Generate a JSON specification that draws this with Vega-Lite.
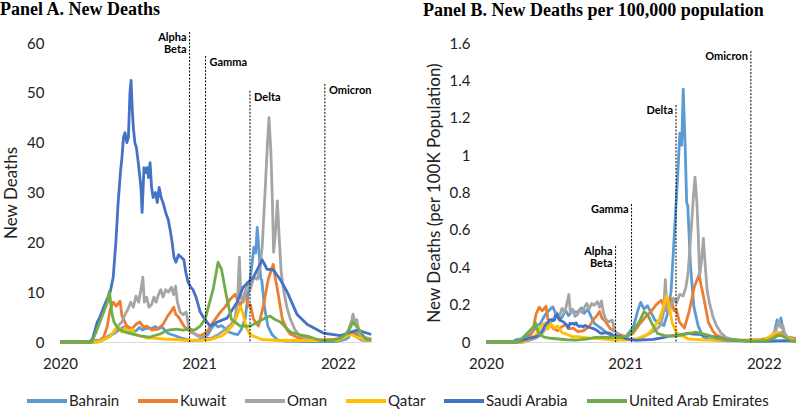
{
  "$schema": "https://vega.github.io/schema/vega-lite/v6.json",
  "background": "white",
  "padding": {"left": 0, "top": 0, "right": 0, "bottom": 0},
  "datasets": {
    "series": [
      {"d":"2020-01-01","c":"Bahrain","a":0,"b":0},
      {"d":"2020-03-10","c":"Bahrain","a":0,"b":0},
      {"d":"2020-03-20","c":"Bahrain","a":0.2,"b":0.012},
      {"d":"2020-04-10","c":"Bahrain","a":0.3,"b":0.018},
      {"d":"2020-04-30","c":"Bahrain","a":0.8,"b":0.047},
      {"d":"2020-05-15","c":"Bahrain","a":1.5,"b":0.088},
      {"d":"2020-05-23","c":"Bahrain","a":1.7,"b":0.1},
      {"d":"2020-06-05","c":"Bahrain","a":2.5,"b":0.147},
      {"d":"2020-06-18","c":"Bahrain","a":3,"b":0.176},
      {"d":"2020-06-25","c":"Bahrain","a":3.2,"b":0.188},
      {"d":"2020-07-03","c":"Bahrain","a":2.5,"b":0.147},
      {"d":"2020-07-12","c":"Bahrain","a":2,"b":0.118},
      {"d":"2020-07-20","c":"Bahrain","a":2.3,"b":0.135},
      {"d":"2020-07-28","c":"Bahrain","a":2.9,"b":0.171},
      {"d":"2020-08-05","c":"Bahrain","a":2.4,"b":0.141},
      {"d":"2020-08-15","c":"Bahrain","a":2.8,"b":0.165},
      {"d":"2020-08-29","c":"Bahrain","a":2.7,"b":0.159},
      {"d":"2020-09-08","c":"Bahrain","a":3.1,"b":0.182},
      {"d":"2020-09-15","c":"Bahrain","a":2.6,"b":0.153},
      {"d":"2020-09-25","c":"Bahrain","a":3,"b":0.176},
      {"d":"2020-10-05","c":"Bahrain","a":2.2,"b":0.129},
      {"d":"2020-10-12","c":"Bahrain","a":1.7,"b":0.1},
      {"d":"2020-10-20","c":"Bahrain","a":1.5,"b":0.088},
      {"d":"2020-11-01","c":"Bahrain","a":1.2,"b":0.071},
      {"d":"2020-11-15","c":"Bahrain","a":0.8,"b":0.047},
      {"d":"2020-12-01","c":"Bahrain","a":0.5,"b":0.029},
      {"d":"2020-12-15","c":"Bahrain","a":0.3,"b":0.018},
      {"d":"2021-01-01","c":"Bahrain","a":0.4,"b":0.024},
      {"d":"2021-01-15","c":"Bahrain","a":1,"b":0.059},
      {"d":"2021-01-24","c":"Bahrain","a":1.5,"b":0.088},
      {"d":"2021-02-03","c":"Bahrain","a":2.8,"b":0.165},
      {"d":"2021-02-11","c":"Bahrain","a":3.6,"b":0.212},
      {"d":"2021-02-20","c":"Bahrain","a":3,"b":0.176},
      {"d":"2021-03-01","c":"Bahrain","a":3.3,"b":0.194},
      {"d":"2021-03-10","c":"Bahrain","a":2.7,"b":0.159},
      {"d":"2021-03-20","c":"Bahrain","a":2,"b":0.118},
      {"d":"2021-04-01","c":"Bahrain","a":1.7,"b":0.1},
      {"d":"2021-04-13","c":"Bahrain","a":1.5,"b":0.088},
      {"d":"2021-04-22","c":"Bahrain","a":2.5,"b":0.147},
      {"d":"2021-05-02","c":"Bahrain","a":4.6,"b":0.271},
      {"d":"2021-05-10","c":"Bahrain","a":9.4,"b":0.553},
      {"d":"2021-05-20","c":"Bahrain","a":15.5,"b":0.912},
      {"d":"2021-05-25","c":"Bahrain","a":19,"b":1.118},
      {"d":"2021-05-30","c":"Bahrain","a":17.9,"b":1.053},
      {"d":"2021-06-03","c":"Bahrain","a":23,"b":1.353},
      {"d":"2021-06-08","c":"Bahrain","a":17.9,"b":1.053},
      {"d":"2021-06-12","c":"Bahrain","a":12.7,"b":0.747},
      {"d":"2021-06-15","c":"Bahrain","a":12.4,"b":0.729},
      {"d":"2021-06-22","c":"Bahrain","a":7,"b":0.412},
      {"d":"2021-07-01","c":"Bahrain","a":3.2,"b":0.188},
      {"d":"2021-07-12","c":"Bahrain","a":1.5,"b":0.088},
      {"d":"2021-07-25","c":"Bahrain","a":0.5,"b":0.029},
      {"d":"2021-08-15","c":"Bahrain","a":0.2,"b":0.012},
      {"d":"2021-10-01","c":"Bahrain","a":0.1,"b":0.006},
      {"d":"2021-12-31","c":"Bahrain","a":0.1,"b":0.006},
      {"d":"2022-01-20","c":"Bahrain","a":0.5,"b":0.029},
      {"d":"2022-01-29","c":"Bahrain","a":0.9,"b":0.053},
      {"d":"2022-02-05","c":"Bahrain","a":2,"b":0.118},
      {"d":"2022-02-10","c":"Bahrain","a":1.5,"b":0.088},
      {"d":"2022-02-15","c":"Bahrain","a":2.2,"b":0.129},
      {"d":"2022-02-22","c":"Bahrain","a":0.9,"b":0.053},
      {"d":"2022-03-05","c":"Bahrain","a":0.4,"b":0.024},
      {"d":"2022-03-30","c":"Bahrain","a":0.3,"b":0.018},

      {"d":"2020-01-01","c":"Kuwait","a":0,"b":0},
      {"d":"2020-04-10","c":"Kuwait","a":0,"b":0},
      {"d":"2020-04-25","c":"Kuwait","a":1,"b":0.023},
      {"d":"2020-05-04","c":"Kuwait","a":3,"b":0.07},
      {"d":"2020-05-12","c":"Kuwait","a":6.5,"b":0.151},
      {"d":"2020-05-20","c":"Kuwait","a":8,"b":0.186},
      {"d":"2020-05-28","c":"Kuwait","a":7.2,"b":0.167},
      {"d":"2020-06-07","c":"Kuwait","a":8.2,"b":0.191},
      {"d":"2020-06-12","c":"Kuwait","a":5.2,"b":0.121},
      {"d":"2020-06-25","c":"Kuwait","a":3.2,"b":0.074},
      {"d":"2020-07-08","c":"Kuwait","a":2.6,"b":0.06},
      {"d":"2020-07-18","c":"Kuwait","a":3.5,"b":0.081},
      {"d":"2020-07-29","c":"Kuwait","a":4,"b":0.093},
      {"d":"2020-08-08","c":"Kuwait","a":3,"b":0.07},
      {"d":"2020-08-17","c":"Kuwait","a":3.2,"b":0.074},
      {"d":"2020-08-30","c":"Kuwait","a":2.4,"b":0.056},
      {"d":"2020-09-13","c":"Kuwait","a":2.6,"b":0.06},
      {"d":"2020-09-28","c":"Kuwait","a":3.5,"b":0.081},
      {"d":"2020-10-10","c":"Kuwait","a":5.2,"b":0.121},
      {"d":"2020-10-20","c":"Kuwait","a":6.2,"b":0.144},
      {"d":"2020-10-26","c":"Kuwait","a":7,"b":0.163},
      {"d":"2020-11-01","c":"Kuwait","a":5.5,"b":0.128},
      {"d":"2020-11-08","c":"Kuwait","a":5,"b":0.116},
      {"d":"2020-11-22","c":"Kuwait","a":3.2,"b":0.074},
      {"d":"2020-12-10","c":"Kuwait","a":2,"b":0.047},
      {"d":"2020-12-25","c":"Kuwait","a":1.5,"b":0.035},
      {"d":"2021-01-04","c":"Kuwait","a":1.2,"b":0.028},
      {"d":"2021-01-22","c":"Kuwait","a":2,"b":0.047},
      {"d":"2021-02-07","c":"Kuwait","a":4,"b":0.093},
      {"d":"2021-02-26","c":"Kuwait","a":6,"b":0.14},
      {"d":"2021-03-10","c":"Kuwait","a":7,"b":0.163},
      {"d":"2021-03-24","c":"Kuwait","a":8.6,"b":0.2},
      {"d":"2021-04-06","c":"Kuwait","a":9.6,"b":0.223},
      {"d":"2021-04-19","c":"Kuwait","a":7.2,"b":0.167},
      {"d":"2021-05-02","c":"Kuwait","a":10,"b":0.233},
      {"d":"2021-05-10","c":"Kuwait","a":7.2,"b":0.167},
      {"d":"2021-05-16","c":"Kuwait","a":7.5,"b":0.174},
      {"d":"2021-05-24","c":"Kuwait","a":4.6,"b":0.107},
      {"d":"2021-06-06","c":"Kuwait","a":3.2,"b":0.074},
      {"d":"2021-06-19","c":"Kuwait","a":7.2,"b":0.167},
      {"d":"2021-07-02","c":"Kuwait","a":12.6,"b":0.293},
      {"d":"2021-07-15","c":"Kuwait","a":15.6,"b":0.363},
      {"d":"2021-07-20","c":"Kuwait","a":13,"b":0.302},
      {"d":"2021-07-26","c":"Kuwait","a":10.6,"b":0.247},
      {"d":"2021-08-08","c":"Kuwait","a":4.6,"b":0.107},
      {"d":"2021-08-20","c":"Kuwait","a":2.5,"b":0.058},
      {"d":"2021-08-29","c":"Kuwait","a":1.6,"b":0.037},
      {"d":"2021-09-20","c":"Kuwait","a":0.8,"b":0.019},
      {"d":"2021-11-01","c":"Kuwait","a":0.4,"b":0.009},
      {"d":"2021-12-20","c":"Kuwait","a":0.5,"b":0.012},
      {"d":"2022-01-20","c":"Kuwait","a":1,"b":0.023},
      {"d":"2022-02-05","c":"Kuwait","a":1.8,"b":0.042},
      {"d":"2022-02-15","c":"Kuwait","a":2.2,"b":0.051},
      {"d":"2022-03-01","c":"Kuwait","a":1.2,"b":0.028},
      {"d":"2022-03-30","c":"Kuwait","a":0.6,"b":0.014},

      {"d":"2020-01-01","c":"Oman","a":0,"b":0},
      {"d":"2020-04-01","c":"Oman","a":0,"b":0},
      {"d":"2020-04-20","c":"Oman","a":0.3,"b":0.006},
      {"d":"2020-05-10","c":"Oman","a":1,"b":0.02},
      {"d":"2020-05-25","c":"Oman","a":2,"b":0.039},
      {"d":"2020-06-05","c":"Oman","a":3.5,"b":0.069},
      {"d":"2020-06-12","c":"Oman","a":4,"b":0.078},
      {"d":"2020-06-20","c":"Oman","a":5.5,"b":0.108},
      {"d":"2020-06-28","c":"Oman","a":6.6,"b":0.129},
      {"d":"2020-07-05","c":"Oman","a":8,"b":0.157},
      {"d":"2020-07-12","c":"Oman","a":7,"b":0.137},
      {"d":"2020-07-19","c":"Oman","a":9.2,"b":0.18},
      {"d":"2020-07-26","c":"Oman","a":8,"b":0.157},
      {"d":"2020-08-02","c":"Oman","a":11,"b":0.216},
      {"d":"2020-08-06","c":"Oman","a":13,"b":0.255},
      {"d":"2020-08-10","c":"Oman","a":8,"b":0.157},
      {"d":"2020-08-16","c":"Oman","a":9,"b":0.176},
      {"d":"2020-08-22","c":"Oman","a":7,"b":0.137},
      {"d":"2020-08-29","c":"Oman","a":7.5,"b":0.147},
      {"d":"2020-09-04","c":"Oman","a":9,"b":0.176},
      {"d":"2020-09-10","c":"Oman","a":8,"b":0.157},
      {"d":"2020-09-16","c":"Oman","a":9.5,"b":0.186},
      {"d":"2020-09-22","c":"Oman","a":10.5,"b":0.206},
      {"d":"2020-09-28","c":"Oman","a":9,"b":0.176},
      {"d":"2020-10-05","c":"Oman","a":10.5,"b":0.206},
      {"d":"2020-10-12","c":"Oman","a":10,"b":0.196},
      {"d":"2020-10-20","c":"Oman","a":11,"b":0.216},
      {"d":"2020-10-26","c":"Oman","a":9.5,"b":0.186},
      {"d":"2020-10-31","c":"Oman","a":11.2,"b":0.22},
      {"d":"2020-11-05","c":"Oman","a":8,"b":0.157},
      {"d":"2020-11-12","c":"Oman","a":6,"b":0.118},
      {"d":"2020-11-20","c":"Oman","a":5.5,"b":0.108},
      {"d":"2020-11-28","c":"Oman","a":6,"b":0.118},
      {"d":"2020-12-05","c":"Oman","a":3,"b":0.059},
      {"d":"2020-12-14","c":"Oman","a":2,"b":0.039},
      {"d":"2020-12-28","c":"Oman","a":1.2,"b":0.024},
      {"d":"2021-01-15","c":"Oman","a":0.8,"b":0.016},
      {"d":"2021-02-01","c":"Oman","a":0.7,"b":0.014},
      {"d":"2021-02-20","c":"Oman","a":1.5,"b":0.029},
      {"d":"2021-03-10","c":"Oman","a":2.5,"b":0.049},
      {"d":"2021-03-25","c":"Oman","a":3.5,"b":0.069},
      {"d":"2021-04-05","c":"Oman","a":4.6,"b":0.09},
      {"d":"2021-04-12","c":"Oman","a":8,"b":0.157},
      {"d":"2021-04-17","c":"Oman","a":17,"b":0.333},
      {"d":"2021-04-21","c":"Oman","a":9,"b":0.176},
      {"d":"2021-04-27","c":"Oman","a":8,"b":0.157},
      {"d":"2021-05-08","c":"Oman","a":12,"b":0.235},
      {"d":"2021-05-16","c":"Oman","a":10.6,"b":0.208},
      {"d":"2021-05-25","c":"Oman","a":13,"b":0.255},
      {"d":"2021-06-03","c":"Oman","a":12.6,"b":0.247},
      {"d":"2021-06-10","c":"Oman","a":15,"b":0.294},
      {"d":"2021-06-16","c":"Oman","a":19,"b":0.373},
      {"d":"2021-06-24","c":"Oman","a":30.7,"b":0.602},
      {"d":"2021-06-30","c":"Oman","a":40,"b":0.784},
      {"d":"2021-07-04","c":"Oman","a":45,"b":0.882},
      {"d":"2021-07-09","c":"Oman","a":38,"b":0.745},
      {"d":"2021-07-13","c":"Oman","a":28,"b":0.549},
      {"d":"2021-07-16","c":"Oman","a":18,"b":0.353},
      {"d":"2021-07-21","c":"Oman","a":22,"b":0.431},
      {"d":"2021-07-26","c":"Oman","a":28.3,"b":0.555},
      {"d":"2021-07-31","c":"Oman","a":20.7,"b":0.406},
      {"d":"2021-08-05","c":"Oman","a":14,"b":0.275},
      {"d":"2021-08-11","c":"Oman","a":10.6,"b":0.208},
      {"d":"2021-08-20","c":"Oman","a":7,"b":0.137},
      {"d":"2021-08-29","c":"Oman","a":4.6,"b":0.09},
      {"d":"2021-09-10","c":"Oman","a":2.5,"b":0.049},
      {"d":"2021-09-24","c":"Oman","a":1.2,"b":0.024},
      {"d":"2021-10-15","c":"Oman","a":0.6,"b":0.012},
      {"d":"2021-12-01","c":"Oman","a":0.3,"b":0.006},
      {"d":"2021-12-31","c":"Oman","a":0.3,"b":0.006},
      {"d":"2022-01-20","c":"Oman","a":1.2,"b":0.024},
      {"d":"2022-01-30","c":"Oman","a":2.6,"b":0.051},
      {"d":"2022-02-07","c":"Oman","a":4.5,"b":0.088},
      {"d":"2022-02-10","c":"Oman","a":5.6,"b":0.11},
      {"d":"2022-02-15","c":"Oman","a":4,"b":0.078},
      {"d":"2022-02-20","c":"Oman","a":4.5,"b":0.088},
      {"d":"2022-02-27","c":"Oman","a":1.5,"b":0.029},
      {"d":"2022-03-15","c":"Oman","a":0.8,"b":0.016},
      {"d":"2022-03-30","c":"Oman","a":0.5,"b":0.01},

      {"d":"2020-01-01","c":"Qatar","a":0,"b":0},
      {"d":"2020-04-01","c":"Qatar","a":0,"b":0},
      {"d":"2020-04-20","c":"Qatar","a":0.3,"b":0.01},
      {"d":"2020-05-10","c":"Qatar","a":1,"b":0.034},
      {"d":"2020-05-25","c":"Qatar","a":2.5,"b":0.086},
      {"d":"2020-06-05","c":"Qatar","a":3,"b":0.103},
      {"d":"2020-06-12","c":"Qatar","a":2,"b":0.069},
      {"d":"2020-06-20","c":"Qatar","a":2.8,"b":0.097},
      {"d":"2020-06-28","c":"Qatar","a":2.2,"b":0.076},
      {"d":"2020-07-08","c":"Qatar","a":2.5,"b":0.086},
      {"d":"2020-07-18","c":"Qatar","a":1.5,"b":0.052},
      {"d":"2020-08-01","c":"Qatar","a":1.2,"b":0.041},
      {"d":"2020-08-15","c":"Qatar","a":0.8,"b":0.028},
      {"d":"2020-09-01","c":"Qatar","a":0.8,"b":0.028},
      {"d":"2020-10-01","c":"Qatar","a":0.6,"b":0.021},
      {"d":"2020-11-01","c":"Qatar","a":0.5,"b":0.017},
      {"d":"2020-12-01","c":"Qatar","a":0.3,"b":0.01},
      {"d":"2021-01-01","c":"Qatar","a":0.3,"b":0.01},
      {"d":"2021-02-01","c":"Qatar","a":0.5,"b":0.017},
      {"d":"2021-03-01","c":"Qatar","a":1.2,"b":0.041},
      {"d":"2021-03-15","c":"Qatar","a":2,"b":0.069},
      {"d":"2021-04-01","c":"Qatar","a":3.5,"b":0.121},
      {"d":"2021-04-12","c":"Qatar","a":5.5,"b":0.19},
      {"d":"2021-04-20","c":"Qatar","a":7.2,"b":0.248},
      {"d":"2021-04-27","c":"Qatar","a":5.5,"b":0.19},
      {"d":"2021-05-05","c":"Qatar","a":3,"b":0.103},
      {"d":"2021-05-15","c":"Qatar","a":1.5,"b":0.052},
      {"d":"2021-05-24","c":"Qatar","a":1.2,"b":0.041},
      {"d":"2021-06-15","c":"Qatar","a":0.5,"b":0.017},
      {"d":"2021-08-01","c":"Qatar","a":0.3,"b":0.01},
      {"d":"2021-12-31","c":"Qatar","a":0.3,"b":0.01},
      {"d":"2022-01-15","c":"Qatar","a":0.8,"b":0.028},
      {"d":"2022-01-25","c":"Qatar","a":1.2,"b":0.041},
      {"d":"2022-02-05","c":"Qatar","a":1.5,"b":0.052},
      {"d":"2022-02-20","c":"Qatar","a":1,"b":0.034},
      {"d":"2022-03-10","c":"Qatar","a":0.5,"b":0.017},
      {"d":"2022-03-30","c":"Qatar","a":0.3,"b":0.01},

      {"d":"2020-01-01","c":"Saudi Arabia","a":0,"b":0},
      {"d":"2020-03-22","c":"Saudi Arabia","a":0,"b":0},
      {"d":"2020-03-28","c":"Saudi Arabia","a":1,"b":0.003},
      {"d":"2020-04-08","c":"Saudi Arabia","a":4,"b":0.011},
      {"d":"2020-04-15","c":"Saudi Arabia","a":5,"b":0.014},
      {"d":"2020-04-25","c":"Saudi Arabia","a":7,"b":0.02},
      {"d":"2020-05-04","c":"Saudi Arabia","a":8.6,"b":0.025},
      {"d":"2020-05-12","c":"Saudi Arabia","a":10,"b":0.029},
      {"d":"2020-05-20","c":"Saudi Arabia","a":13,"b":0.037},
      {"d":"2020-05-27","c":"Saudi Arabia","a":20,"b":0.057},
      {"d":"2020-06-02","c":"Saudi Arabia","a":28,"b":0.08},
      {"d":"2020-06-08","c":"Saudi Arabia","a":34,"b":0.097},
      {"d":"2020-06-12","c":"Saudi Arabia","a":37,"b":0.106},
      {"d":"2020-06-16","c":"Saudi Arabia","a":41,"b":0.117},
      {"d":"2020-06-20","c":"Saudi Arabia","a":42,"b":0.12},
      {"d":"2020-06-25","c":"Saudi Arabia","a":40,"b":0.114},
      {"d":"2020-06-29","c":"Saudi Arabia","a":41,"b":0.117},
      {"d":"2020-07-03","c":"Saudi Arabia","a":50,"b":0.143},
      {"d":"2020-07-06","c":"Saudi Arabia","a":52.5,"b":0.15},
      {"d":"2020-07-09","c":"Saudi Arabia","a":47,"b":0.134},
      {"d":"2020-07-12","c":"Saudi Arabia","a":43,"b":0.123},
      {"d":"2020-07-16","c":"Saudi Arabia","a":40,"b":0.114},
      {"d":"2020-07-20","c":"Saudi Arabia","a":39,"b":0.111},
      {"d":"2020-07-25","c":"Saudi Arabia","a":36,"b":0.103},
      {"d":"2020-08-01","c":"Saudi Arabia","a":31,"b":0.089},
      {"d":"2020-08-04","c":"Saudi Arabia","a":26,"b":0.074},
      {"d":"2020-08-09","c":"Saudi Arabia","a":35,"b":0.1},
      {"d":"2020-08-13","c":"Saudi Arabia","a":34,"b":0.097},
      {"d":"2020-08-17","c":"Saudi Arabia","a":35,"b":0.1},
      {"d":"2020-08-21","c":"Saudi Arabia","a":33,"b":0.094},
      {"d":"2020-08-25","c":"Saudi Arabia","a":36,"b":0.103},
      {"d":"2020-08-29","c":"Saudi Arabia","a":31,"b":0.089},
      {"d":"2020-09-02","c":"Saudi Arabia","a":29,"b":0.083},
      {"d":"2020-09-08","c":"Saudi Arabia","a":30,"b":0.086},
      {"d":"2020-09-13","c":"Saudi Arabia","a":28,"b":0.08},
      {"d":"2020-09-18","c":"Saudi Arabia","a":31,"b":0.089},
      {"d":"2020-09-23","c":"Saudi Arabia","a":29,"b":0.083},
      {"d":"2020-09-28","c":"Saudi Arabia","a":28,"b":0.08},
      {"d":"2020-10-05","c":"Saudi Arabia","a":26,"b":0.074},
      {"d":"2020-10-12","c":"Saudi Arabia","a":24.5,"b":0.07},
      {"d":"2020-10-18","c":"Saudi Arabia","a":22,"b":0.063},
      {"d":"2020-10-22","c":"Saudi Arabia","a":20,"b":0.057},
      {"d":"2020-10-27","c":"Saudi Arabia","a":17,"b":0.049},
      {"d":"2020-11-01","c":"Saudi Arabia","a":16,"b":0.046},
      {"d":"2020-11-08","c":"Saudi Arabia","a":17.5,"b":0.05},
      {"d":"2020-11-15","c":"Saudi Arabia","a":17,"b":0.049},
      {"d":"2020-11-22","c":"Saudi Arabia","a":16.5,"b":0.047},
      {"d":"2020-11-27","c":"Saudi Arabia","a":14,"b":0.04},
      {"d":"2020-12-03","c":"Saudi Arabia","a":12,"b":0.034},
      {"d":"2020-12-10","c":"Saudi Arabia","a":11,"b":0.031},
      {"d":"2020-12-16","c":"Saudi Arabia","a":10.5,"b":0.03},
      {"d":"2020-12-24","c":"Saudi Arabia","a":9,"b":0.026},
      {"d":"2021-01-04","c":"Saudi Arabia","a":6,"b":0.017},
      {"d":"2021-01-12","c":"Saudi Arabia","a":5,"b":0.014},
      {"d":"2021-01-30","c":"Saudi Arabia","a":3.2,"b":0.009},
      {"d":"2021-02-18","c":"Saudi Arabia","a":4,"b":0.011},
      {"d":"2021-03-16","c":"Saudi Arabia","a":4.8,"b":0.014},
      {"d":"2021-04-11","c":"Saudi Arabia","a":8,"b":0.023},
      {"d":"2021-04-27","c":"Saudi Arabia","a":11,"b":0.031},
      {"d":"2021-05-24","c":"Saudi Arabia","a":13,"b":0.037},
      {"d":"2021-06-16","c":"Saudi Arabia","a":16.5,"b":0.047},
      {"d":"2021-06-29","c":"Saudi Arabia","a":14.6,"b":0.042},
      {"d":"2021-07-15","c":"Saudi Arabia","a":14.5,"b":0.041},
      {"d":"2021-08-03","c":"Saudi Arabia","a":12.5,"b":0.036},
      {"d":"2021-08-21","c":"Saudi Arabia","a":10,"b":0.029},
      {"d":"2021-09-16","c":"Saudi Arabia","a":5.5,"b":0.016},
      {"d":"2021-10-13","c":"Saudi Arabia","a":3.5,"b":0.01},
      {"d":"2021-11-24","c":"Saudi Arabia","a":1.8,"b":0.005},
      {"d":"2022-01-08","c":"Saudi Arabia","a":1.3,"b":0.004},
      {"d":"2022-02-22","c":"Saudi Arabia","a":2.4,"b":0.007},
      {"d":"2022-03-30","c":"Saudi Arabia","a":1.5,"b":0.004},

      {"d":"2020-01-01","c":"United Arab Emirates","a":0,"b":0},
      {"d":"2020-03-25","c":"United Arab Emirates","a":0,"b":0},
      {"d":"2020-04-05","c":"United Arab Emirates","a":2,"b":0.02},
      {"d":"2020-04-15","c":"United Arab Emirates","a":4,"b":0.04},
      {"d":"2020-04-25","c":"United Arab Emirates","a":6,"b":0.061},
      {"d":"2020-05-05","c":"United Arab Emirates","a":8,"b":0.081},
      {"d":"2020-05-10","c":"United Arab Emirates","a":10.2,"b":0.103},
      {"d":"2020-05-16","c":"United Arab Emirates","a":6,"b":0.061},
      {"d":"2020-05-22","c":"United Arab Emirates","a":4,"b":0.04},
      {"d":"2020-06-02","c":"United Arab Emirates","a":2.6,"b":0.026},
      {"d":"2020-06-20","c":"United Arab Emirates","a":2,"b":0.02},
      {"d":"2020-07-10","c":"United Arab Emirates","a":1.6,"b":0.016},
      {"d":"2020-08-01","c":"United Arab Emirates","a":1.2,"b":0.012},
      {"d":"2020-08-25","c":"United Arab Emirates","a":1,"b":0.01},
      {"d":"2020-09-20","c":"United Arab Emirates","a":1.6,"b":0.016},
      {"d":"2020-10-12","c":"United Arab Emirates","a":2.4,"b":0.024},
      {"d":"2020-11-01","c":"United Arab Emirates","a":2.6,"b":0.026},
      {"d":"2020-11-20","c":"United Arab Emirates","a":2.4,"b":0.024},
      {"d":"2020-12-05","c":"United Arab Emirates","a":2.6,"b":0.026},
      {"d":"2020-12-20","c":"United Arab Emirates","a":2.4,"b":0.024},
      {"d":"2021-01-04","c":"United Arab Emirates","a":3.2,"b":0.032},
      {"d":"2021-01-17","c":"United Arab Emirates","a":4.6,"b":0.046},
      {"d":"2021-02-07","c":"United Arab Emirates","a":10.6,"b":0.107},
      {"d":"2021-02-20","c":"United Arab Emirates","a":16,"b":0.162},
      {"d":"2021-03-01","c":"United Arab Emirates","a":14.6,"b":0.147},
      {"d":"2021-03-14","c":"United Arab Emirates","a":9.2,"b":0.093},
      {"d":"2021-03-27","c":"United Arab Emirates","a":4.6,"b":0.046},
      {"d":"2021-04-19","c":"United Arab Emirates","a":3.2,"b":0.032},
      {"d":"2021-05-16","c":"United Arab Emirates","a":3.2,"b":0.032},
      {"d":"2021-06-19","c":"United Arab Emirates","a":4.6,"b":0.046},
      {"d":"2021-07-07","c":"United Arab Emirates","a":5.2,"b":0.053},
      {"d":"2021-07-20","c":"United Arab Emirates","a":4.5,"b":0.045},
      {"d":"2021-08-03","c":"United Arab Emirates","a":4,"b":0.04},
      {"d":"2021-08-29","c":"United Arab Emirates","a":2,"b":0.02},
      {"d":"2021-09-20","c":"United Arab Emirates","a":1.5,"b":0.015},
      {"d":"2021-10-13","c":"United Arab Emirates","a":1.2,"b":0.012},
      {"d":"2021-11-16","c":"United Arab Emirates","a":0.3,"b":0.003},
      {"d":"2021-12-20","c":"United Arab Emirates","a":0.3,"b":0.003},
      {"d":"2022-01-10","c":"United Arab Emirates","a":0.8,"b":0.008},
      {"d":"2022-01-28","c":"United Arab Emirates","a":2,"b":0.02},
      {"d":"2022-02-10","c":"United Arab Emirates","a":4,"b":0.04},
      {"d":"2022-02-25","c":"United Arab Emirates","a":2.6,"b":0.026},
      {"d":"2022-03-15","c":"United Arab Emirates","a":0.6,"b":0.006},
      {"d":"2022-03-30","c":"United Arab Emirates","a":0.4,"b":0.004}
    ],
    "variants": [
      {"v":"Alpha\nBeta","d":"2020-12-07","ta":62.2,"tb":0.514},
      {"v":"Gamma","d":"2021-01-18","ta":57.4,"tb":0.738},
      {"v":"Delta","d":"2021-05-15","ta":50.4,"tb":1.268},
      {"v":"Omicron","d":"2021-11-28","ta":51.8,"tb":1.557}
    ]
  },
  "hconcat": [
    {
      "width": 312,
      "height": 299,
      "title": {"text": "Panel A. New Deaths", "anchor": "start", "frame": "group", "dx": -60, "offset": 13},
      "layer": [
        {
          "data": {"name": "series"},
          "mark": {"type": "line", "strokeWidth": 2.8, "strokeJoin": "round"},
          "encoding": {
            "x": {"field": "d", "type": "temporal",
                  "scale": {"type": "utc", "domain": [{"year": 2020, "month": 1, "date": 1, "utc": true}, {"year": 2022, "month": 4, "date": 1, "utc": true}]},
                  "axis": {"title": null, "format": "%Y", "labelFlush": false, "values": [{"year": 2020, "month": 1, "date": 1, "utc": true}, {"year": 2021, "month": 1, "date": 1, "utc": true}, {"year": 2022, "month": 1, "date": 1, "utc": true}]}},
            "y": {"field": "a", "type": "quantitative",
                  "scale": {"domain": [0, 60], "nice": false},
                  "axis": {"title": "New Deaths", "values": [0, 10, 20, 30, 40, 50, 60], "domain": false, "labelOverlap": false}},
            "color": {"field": "c", "type": "nominal",
                      "scale": {"domain": ["Bahrain", "Kuwait", "Oman", "Qatar", "Saudi Arabia", "United Arab Emirates"],
                                "range": ["#5B9BD5", "#ED7D31", "#A5A5A5", "#FFC000", "#4472C4", "#70AD47"]},
                      "legend": {"title": null}}
          }
        },
        {
          "data": {"name": "variants"},
          "mark": {"type": "rule", "color": "#000000", "strokeWidth": 1, "strokeDash": [2, 1.5]},
          "encoding": {
            "x": {"field": "d", "type": "temporal"},
            "y": {"field": "ta", "type": "quantitative"},
            "y2": {"datum": 0}
          }
        },
        {
          "data": {"name": "variants"},
          "transform": [{"filter": "indexof(datum.v, 'Alpha') >= 0"}],
          "mark": {"type": "text", "align": "right", "baseline": "top", "dx": -3, "font": "Lato", "fontWeight": "bold", "fontSize": 11, "lineBreak": "\n", "lineHeight": 12, "color": "#000000"},
          "encoding": {
            "x": {"field": "d", "type": "temporal"},
            "y": {"field": "ta", "type": "quantitative"},
            "text": {"field": "v", "type": "nominal"}
          }
        },
        {
          "data": {"name": "variants"},
          "transform": [{"filter": "indexof(datum.v, 'Alpha') < 0"}],
          "mark": {"type": "text", "align": "left", "baseline": "top", "dx": 4, "dy": 1, "font": "Lato", "fontWeight": "bold", "fontSize": 11, "color": "#000000"},
          "encoding": {
            "x": {"field": "d", "type": "temporal"},
            "y": {"field": "ta", "type": "quantitative"},
            "text": {"field": "v", "type": "nominal"}
          }
        }
      ]
    },
    {
      "width": 312,
      "height": 299,
      "title": {"text": "Panel B. New Deaths per 100,000 population", "anchor": "start", "frame": "group", "dx": -63, "offset": 16},
      "layer": [
        {
          "data": {"name": "series"},
          "mark": {"type": "line", "strokeWidth": 2.8, "strokeJoin": "round"},
          "encoding": {
            "x": {"field": "d", "type": "temporal",
                  "scale": {"type": "utc", "domain": [{"year": 2020, "month": 1, "date": 1, "utc": true}, {"year": 2022, "month": 4, "date": 1, "utc": true}]},
                  "axis": {"title": null, "format": "%Y", "labelFlush": false, "values": [{"year": 2020, "month": 1, "date": 1, "utc": true}, {"year": 2021, "month": 1, "date": 1, "utc": true}, {"year": 2022, "month": 1, "date": 1, "utc": true}]}},
            "y": {"field": "b", "type": "quantitative",
                  "scale": {"domain": [0, 1.6], "nice": false},
                  "axis": {"title": "New Deaths (per 100K Population)", "tickCount": 9, "labelExpr": "format(datum.value, '~g')", "domain": false, "labelOverlap": false}},
            "color": {"field": "c", "type": "nominal", "legend": {"title": null}}
          }
        },
        {
          "data": {"name": "variants"},
          "mark": {"type": "rule", "color": "#000000", "strokeWidth": 1, "strokeDash": [2, 1.5]},
          "encoding": {
            "x": {"field": "d", "type": "temporal"},
            "y": {"field": "tb", "type": "quantitative"},
            "y2": {"datum": 0}
          }
        },
        {
          "data": {"name": "variants"},
          "mark": {"type": "text", "align": "right", "baseline": "top", "dx": -3, "font": "Lato", "fontWeight": "bold", "fontSize": 11, "lineBreak": "\n", "lineHeight": 12, "color": "#000000"},
          "encoding": {
            "x": {"field": "d", "type": "temporal"},
            "y": {"field": "tb", "type": "quantitative"},
            "text": {"field": "v", "type": "nominal"}
          }
        }
      ]
    }
  ],
  "spacing": 114,
  "bounds": "flush",
  "config": {
    "view": {"stroke": null},
    "font": "Lato",
    "title": {"font": "Liberation Serif", "fontSize": 18, "fontWeight": "bold", "color": "#000000"},
    "axis": {"grid": false, "ticks": false, "domainColor": "#d9d9d9", "domainWidth": 1,
             "labelFont": "Lato", "labelFontSize": 15, "labelColor": "#222222", "labelOverlap": false, "labelFlush": false,
             "titleFont": "Lato", "titleFontSize": 17, "titleFontWeight": "normal", "titleColor": "#222222"},
    "axisX": {"labelPadding": 14},
    "axisY": {"labelPadding": 16, "titlePadding": 6, "labelOverlap": false},
    "axisQuantitative": {"labelOverlap": false},
    "legend": {"orient": "none", "legendX": -35, "legendY": 336, "direction": "horizontal",
               "symbolType": "stroke", "symbolSize": 1600, "symbolStrokeWidth": 4,
               "labelFont": "Lato", "labelFontSize": 15, "labelColor": "#222222", "labelOffset": 0, "columnPadding": 10}
  }
}
